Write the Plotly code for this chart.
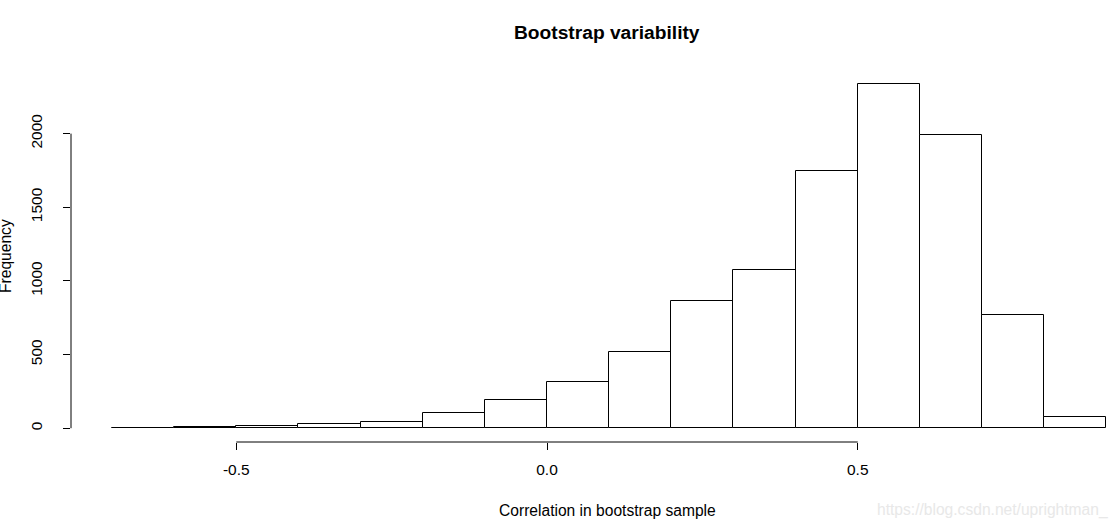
import plotly.graph_objects as go

# Histogram bins (left edges) and counts
bin_left = [-0.7, -0.6, -0.5, -0.4, -0.3, -0.2, -0.1, 0.0, 0.1, 0.2, 0.3, 0.4, 0.5, 0.6, 0.7, 0.8]
counts = [1, 6, 14, 27, 41, 102, 190, 313, 516, 863, 1071, 1749, 2339, 1993, 766, 75]
bin_width = 0.1
x_ticks = [-0.5, 0.0, 0.5]
x_tick_text = ["-0.5", "0.0", "0.5"]
y_ticks = [0, 500, 1000, 1500, 2000]
y_tick_text = ["0", "500", "1000", "1500", "2000"]

centers = [b + bin_width / 2 for b in bin_left]

fig = go.Figure()
fig.add_trace(go.Bar(
    x=centers, y=counts, width=[bin_width] * len(counts),
    marker=dict(color="white", line=dict(color="black", width=1)),
    hoverinfo="x+y", showlegend=False,
))

font_family = "Liberation Sans, Arial, sans-serif"

fig.update_layout(
    width=1120, height=528,
    margin=dict(l=71, r=0, t=70, b=86),
    paper_bgcolor="white", plot_bgcolor="white",
    bargap=0,
    font=dict(family=font_family, size=15.5, color="black"),
    xaxis=dict(
        range=[-0.766, 0.922], showgrid=False, zeroline=False, showline=False,
        tickvals=x_ticks, ticktext=x_tick_text, ticks="outside", ticklen=7,
        tickwidth=1, tickcolor="black", tickfont=dict(size=15.5),
        ticklabelstandoff=6,
    ),
    yaxis=dict(
        range=[-93.6, 2432], showgrid=False, zeroline=False, showline=False,
        tickvals=y_ticks, ticktext=y_tick_text, ticks="outside", ticklen=7,
        tickwidth=1, tickcolor="black", tickangle=-90, tickfont=dict(size=15.5),
        ticklabelstandoff=15,
    ),
)

# R-style axis lines spanning only the tick range
fig.add_shape(type="line", xref="x", yref="paper", x0=min(x_ticks), x1=max(x_ticks),
              y0=0, y1=0, line=dict(color="black", width=1))
fig.add_shape(type="line", xref="paper", yref="y", x0=0, x1=0,
              y0=min(y_ticks), y1=max(y_ticks), line=dict(color="black", width=1))

# Titles
fig.add_annotation(text="<b>Bootstrap variability</b>", xref="paper", yref="paper",
                   x=0.511, y=1, yshift=38, showarrow=False, yanchor="middle",
                   font=dict(size=19.2, family=font_family))
fig.add_annotation(text="Correlation in bootstrap sample", xref="paper", yref="paper",
                   x=0.511, y=0, yshift=-68, showarrow=False, yanchor="middle",
                   font=dict(size=15.6, family=font_family))
fig.add_annotation(text="Frequency", xref="paper", yref="paper",
                   x=0, xshift=-66, y=0.5, showarrow=False, textangle=-90,
                   xanchor="center", font=dict(size=15.6, family=font_family))
# Watermark
fig.add_annotation(text="https://blog.csdn.net/uprightman_", xref="paper", yref="paper",
                   x=1, xshift=-10, y=0, yshift=-68, showarrow=False, xanchor="right",
                   yanchor="middle", font=dict(size=15.6, family=font_family, color="#e8e8e8"))

fig.write_html("out.html")
